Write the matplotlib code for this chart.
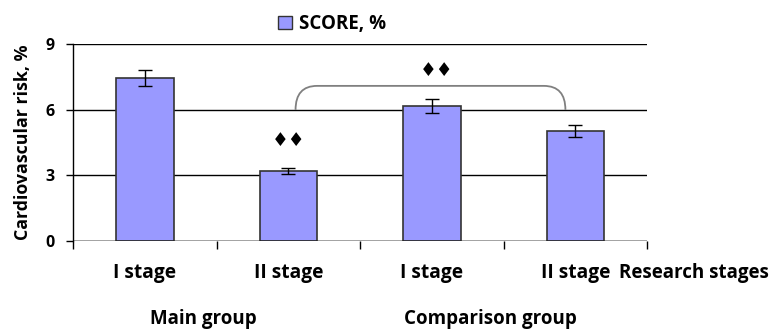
import matplotlib
matplotlib.use("Agg")
import matplotlib.pyplot as plt
from matplotlib.path import Path
from matplotlib.patches import PathPatch, Patch

plt.rcParams['font.family'] = ['Open Sans', 'DejaVu Sans']
plt.rcParams['font.weight'] = 'bold'

# Data
stages = ["I stage", "II stage", "I stage", "II stage"]
groups = ["Main group", "Comparison group"]
score = [7.45, 3.2, 6.17, 5.03]
score_err = [0.36, 0.14, 0.33, 0.28]
y_ticks = [0, 3, 6, 9]
series_name = "SCORE, %"

bar_color = "#9999ff"
edge_color = "#333333"

fig = plt.figure(figsize=(7.77, 3.29), dpi=100)
ax = fig.add_axes([0.094, 0.268, 0.739, 0.597])

x = list(range(len(score)))
ax.bar(x, score, width=0.4, color=bar_color, edgecolor=edge_color,
       linewidth=1.2, zorder=3)
ax.errorbar(x, score, yerr=score_err, fmt='none', ecolor='black',
            elinewidth=1.0, capsize=4.7, capthick=1.0, zorder=4)

ax.set_xlim(-0.5, len(score) - 0.5)
ax.set_ylim(0, 9)
ax.set_yticks(y_ticks)
ax.set_yticklabels([str(t) for t in y_ticks], fontsize=11.5, fontweight='bold')
ax.grid(axis='y', color='black', linewidth=1.0, zorder=1)

# Category boundaries carry the x tick marks; labels sit at bar centers
ax.set_xticks([i - 0.5 for i in range(len(score) + 1)])
ax.set_xticklabels([])
ax.tick_params(axis='x', direction='out', length=6, width=1.0, color='black')
ax.tick_params(axis='y', direction='out', length=5, width=1.0, color='black', pad=8)
for i, lab in enumerate(stages):
    ax.text(i, -0.165, lab, transform=ax.get_xaxis_transform(),
            ha='center', va='center', fontsize=13.8, fontweight='bold')
ax.text(len(score) - 0.5 - 0.2, -0.165, "Research stages",
        transform=ax.get_xaxis_transform(), ha='left', va='center',
        fontsize=13.5, fontweight='bold')
for g, name in enumerate(groups):
    ax.text(2 * g + 0.5 - 0.09, -0.40, name, transform=ax.get_xaxis_transform(),
            ha='center', va='center', fontsize=13.5, fontweight='bold')

for side in ('top', 'right', 'bottom'):
    ax.spines[side].set_visible(False)
ax.spines['left'].set_linewidth(1.0)
ax.axhline(0, color='black', linewidth=1.0, zorder=5)

ax.set_ylabel("Cardiovascular risk, %", fontsize=12.8, fontweight='bold')
ax.yaxis.set_label_coords(-0.071, 0.5)

# Significance bracket between main group stage II and comparison group stage II
x0, x1 = 1.05, 2.93
y0, yt = 6.0, 7.1
dx = 0.15
verts = [(x0, y0), (x0, yt), (x0 + dx, yt), (x1 - dx, yt), (x1, yt), (x1, y0)]
codes = [Path.MOVETO, Path.CURVE3, Path.CURVE3, Path.LINETO, Path.CURVE3, Path.CURVE3]
ax.add_patch(PathPatch(Path(verts, codes), facecolor='none',
                       edgecolor='#808080', linewidth=1.3, zorder=2))

for xc, yc in [(2.03, 7.8), (1.0, 4.6)]:
    ax.text(xc, yc, "\u2666\u2666", ha='center', va='center', fontsize=13.5,
            family='DejaVu Sans', zorder=6)

handle = Patch(facecolor=bar_color, edgecolor=edge_color, linewidth=1.0)
fig.legend([handle], [series_name], loc='center', bbox_to_anchor=(0.427, 0.927),
           frameon=False, handlelength=0.75, handleheight=0.75,
           handletextpad=0.35, prop={'weight': 'bold', 'size': 13.5})

fig.savefig("out.png", dpi=100)
